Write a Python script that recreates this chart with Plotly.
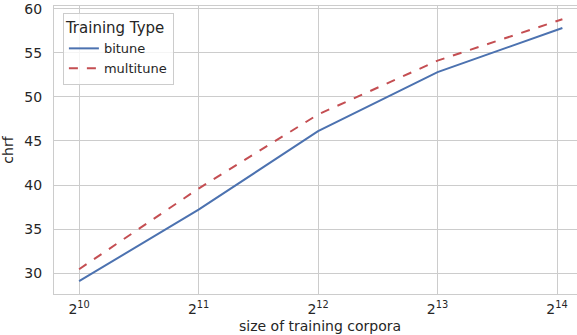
import plotly.graph_objects as go
import math

# Data
corpus_size = [1024, 2048, 4096, 8192, 16900]
bitune = [29.1, 37.2, 46.1, 52.8, 57.8]
multitune = [30.45, 39.6, 48.0, 54.1, 58.8]
series_names = ["bitune", "multitune"]
x_tick_vals = [1024, 2048, 4096, 8192, 16384]
x_tick_text = ["2<sup>10</sup>", "2<sup>11</sup>", "2<sup>12</sup>", "2<sup>13</sup>", "2<sup>14</sup>"]
y_tick_vals = [30, 35, 40, 45, 50, 55, 60]

FONT = "DejaVu Sans"
TXT = "#262626"
GRID = "#cccccc"

fig = go.Figure()
fig.add_trace(go.Scatter(x=corpus_size, y=bitune, mode="lines", name=series_names[0],
                         line=dict(color="#4c72b0", width=2)))
fig.add_trace(go.Scatter(x=corpus_size, y=multitune, mode="lines", name=series_names[1],
                         line=dict(color="#c44e52", width=2, dash="dash")))

fig.update_layout(
    width=577, height=335,
    margin=dict(l=54, r=0, t=6, b=41),
    paper_bgcolor="white", plot_bgcolor="white",
    font=dict(family=FONT, color=TXT, size=14),
    legend=dict(
        title=dict(text="Training Type ", font=dict(size=15, color=TXT)),
        x=0.017, y=0.976, xanchor="left", yanchor="top",
        bgcolor="rgba(255,255,255,0.8)", bordercolor=GRID, borderwidth=1,
        font=dict(size=13, color=TXT),
        itemwidth=30,
        tracegroupgap=0,
    ),
    annotations=[dict(text="size of training corpora", xref="paper", yref="paper",
                      x=0.5086, y=0, yshift=-42, xanchor="center", yanchor="bottom",
                      showarrow=False, font=dict(size=14, color=TXT))],
)
fig.update_xaxes(
    type="log",
    range=[9.79 * math.log10(2), 14.167 * math.log10(2)],
    tickvals=x_tick_vals, ticktext=x_tick_text,
    tickfont=dict(size=14),
    showgrid=True, gridcolor=GRID, gridwidth=1,
    showline=True, linecolor=GRID, linewidth=1, mirror=True,
    ticks="", ticklabelstandoff=2,
    zeroline=False,
)
fig.update_yaxes(
    range=[27.64, 60.3],
    tickvals=y_tick_vals,
    showgrid=True, gridcolor=GRID, gridwidth=1,
    showline=True, linecolor=GRID, linewidth=1, mirror=False,
    ticks="", ticklabelstandoff=8,
    zeroline=False,
    title=dict(text="chrf", font=dict(size=14, color=TXT), standoff=8),
)

fig.write_html("out.html")
